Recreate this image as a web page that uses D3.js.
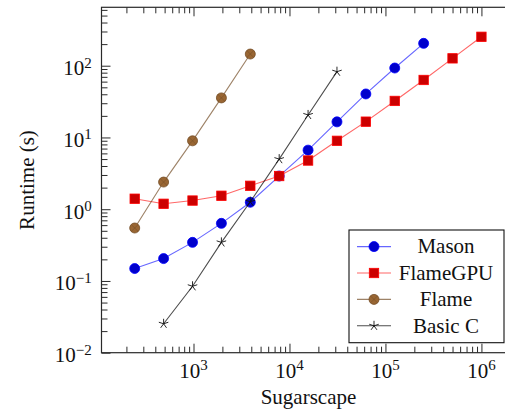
<!DOCTYPE html>
<html>
<head>
<meta charset="utf-8">
<script src="https://cdn.jsdelivr.net/npm/d3@7/dist/d3.min.js"></script>
<style>
  html, body { margin: 0; padding: 0; background: #fff; }
  svg { display: block; }
</style>
</head>
<body>
<svg id="chart" width="505" height="414"></svg>
<script>
// Problem sizes (number of agents) and runtimes in seconds
const sizesAll = [244, 488, 977, 1953, 3906, 7813, 15625, 31250, 62500, 125000, 250000, 500000, 1000000];

const masonX = [244, 488, 977, 1953, 3906, 7813, 15625, 31250, 62500, 125000, 250000];
const masonY = [0.149, 0.205, 0.345, 0.635, 1.25, 2.9, 6.66, 16.5, 40.4, 92.9, 205];

const flameGpuX = sizesAll;
const flameGpuY = [1.40, 1.19, 1.32, 1.54, 2.12, 2.90, 4.77, 8.98, 16.6, 32.3, 63.3, 126.7, 253];

const flameX = [244, 488, 977, 1953, 3906];
const flameY = [0.547, 2.39, 8.98, 35.6, 145.5];

const basicCX = [488, 977, 1953, 3906, 7813, 15625, 31250];
const basicCY = [0.0253, 0.0843, 0.345, 1.27, 4.99, 20.6, 82.6];

const seriesNames = ["Mason", "FlameGPU", "Flame", "Basic C"];

const xMajorTicks = [1e3, 1e4, 1e5, 1e6];
const xTickExponents = ["3", "4", "5", "6"];
const yMajorTicks = [1e-2, 1e-1, 1e0, 1e1, 1e2];
const yTickExponents = ["\u22122", "\u22121", "0", "1", "2"];

const xTitle = "Sugarscape";
const yTitle = "Runtime (s)";

// axis limits
const xLimits = [110, 2.32e6];
const yLimits = [0.01, 652];

const plot = { left: 101.5, right: 516.5, top: 7.3, bottom: 352.7 };
const FONT = '"Liberation Serif"';

const svg = d3.select("#chart");

const x = d3.scaleLog().domain(xLimits).range([plot.left, plot.right]);
const y = d3.scaleLog().domain(yLimits).range([plot.bottom, plot.top]);

const isMajor = v => Math.abs(Math.log10(v) - Math.round(Math.log10(v))) < 1e-9;
const xMinor = x.ticks().filter(v => !isMajor(v));
const yMinor = y.ticks().filter(v => !isMajor(v));

const MAJOR = 9, MINOR = 6;
const tickColor = "#2a2a2a";

function styleAxis(g) {
  g.select(".domain").remove();
  g.selectAll(".tick line").attr("stroke", tickColor).attr("stroke-width", 1);
  g.selectAll(".tick text").remove();
}

// bottom and top ticks (pointing inwards)
[[d3.axisBottom, plot.bottom], [d3.axisTop, plot.top]].forEach(([axisFn, pos]) => {
  svg.append("g").attr("transform", `translate(0,${pos})`)
    .call(axisFn(x).tickValues(xMinor).tickSize(-MINOR).tickFormat(""))
    .call(styleAxis);
  svg.append("g").attr("transform", `translate(0,${pos})`)
    .call(axisFn(x).tickValues(xMajorTicks).tickSize(-MAJOR).tickFormat(""))
    .call(styleAxis);
});

// left and right ticks
[[d3.axisLeft, plot.left], [d3.axisRight, plot.right]].forEach(([axisFn, pos]) => {
  svg.append("g").attr("transform", `translate(${pos},0)`)
    .call(axisFn(y).tickValues(yMinor).tickSize(-MINOR).tickFormat(""))
    .call(styleAxis);
  svg.append("g").attr("transform", `translate(${pos},0)`)
    .call(axisFn(y).tickValues(yMajorTicks).tickSize(-MAJOR).tickFormat(""))
    .call(styleAxis);
});

// frame
svg.append("rect")
  .attr("x", plot.left).attr("y", plot.top)
  .attr("width", plot.right - plot.left).attr("height", plot.bottom - plot.top)
  .attr("fill", "none").attr("stroke", tickColor).attr("stroke-width", 1.2);

function addText(parent) {
  return parent.append("text").style("font-family", FONT).attr("fill", "#111");
}

// tick labels as 10^n
const labelSize = 21, expSize = 15;
xMajorTicks.forEach((v, i) => {
  const t = addText(svg)
    .attr("x", x(v)).attr("y", 378.3)
    .attr("text-anchor", "middle").style("font-size", labelSize + "px");
  t.append("tspan").text("10");
  t.append("tspan").attr("dy", -8).style("font-size", expSize + "px").text(xTickExponents[i]);
});
yMajorTicks.forEach((v, i) => {
  const t = addText(svg)
    .attr("x", 91.7).attr("y", y(v) + 9.5)
    .attr("text-anchor", "end").style("font-size", labelSize + "px");
  t.append("tspan").text("10");
  t.append("tspan").attr("dy", -7.5).style("font-size", expSize + "px").text(yTickExponents[i]);
});

// axis titles
addText(svg)
  .attr("x", (plot.left + plot.right) / 2 - 0.5).attr("y", 403.5)
  .attr("text-anchor", "middle").style("font-size", labelSize + "px").text(xTitle);
addText(svg)
  .attr("transform", `translate(33.5,${(plot.top + plot.bottom) / 2}) rotate(-90)`)
  .attr("text-anchor", "middle").style("font-size", labelSize + "px").text(yTitle);

// marker drawers
const markers = {
  circle(g, cx, cy) {
    g.append("circle").attr("cx", cx).attr("cy", cy).attr("r", 5)
      .attr("fill", "#0000cc").attr("stroke", "#0000ff").attr("stroke-width", 0.8);
  },
  square(g, cx, cy) {
    g.append("rect").attr("x", cx - 4.7).attr("y", cy - 4.7).attr("width", 9.4).attr("height", 9.4)
      .attr("fill", "#cc0000").attr("stroke", "#ff0000").attr("stroke-width", 0.8);
  },
  otimes(g, cx, cy) {
    g.append("circle").attr("cx", cx).attr("cy", cy).attr("r", 5)
      .attr("fill", "#996633").attr("stroke", "#734d26").attr("stroke-width", 0.8);
    const d = 5 / Math.SQRT2;
    [[-d, -d, d, d], [-d, d, d, -d]].forEach(([a, b, c, e]) => {
      g.append("line").attr("x1", cx + a).attr("y1", cy + b).attr("x2", cx + c).attr("y2", cy + e)
        .attr("stroke", "#734d26").attr("stroke-width", 0.7).attr("opacity", 0.7);
    });
  },
  star(g, cx, cy) {
    for (let k = 0; k < 5; k++) {
      const ang = (-90 + k * 72) * Math.PI / 180;
      g.append("line").attr("x1", cx).attr("y1", cy)
        .attr("x2", cx + 5 * Math.cos(ang)).attr("y2", cy + 5 * Math.sin(ang))
        .attr("stroke", "#111").attr("stroke-width", 0.9);
    }
  }
};

const series = [
  { name: seriesNames[0], xs: masonX, ys: masonY, line: "#0000ff", lineOpacity: 0.6, mark: "circle" },
  { name: seriesNames[1], xs: flameGpuX, ys: flameGpuY, line: "#ff0000", lineOpacity: 0.6, mark: "square" },
  { name: seriesNames[2], xs: flameX, ys: flameY, line: "#734d26", lineOpacity: 0.7, mark: "otimes" },
  { name: seriesNames[3], xs: basicCX, ys: basicCY, line: "#000000", lineOpacity: 0.7, mark: "star" }
];

const lineGen = d3.line().x(d => x(d[0])).y(d => y(d[1]));

series.forEach(s => {
  const pts = s.xs.map((v, i) => [v, s.ys[i]]);
  const g = svg.append("g");
  g.append("path").attr("d", lineGen(pts)).attr("fill", "none")
    .attr("stroke", s.line).attr("stroke-opacity", s.lineOpacity).attr("stroke-width", 1.1);
  pts.forEach(p => markers[s.mark](g, x(p[0]), y(p[1])));
});

// legend
const legend = svg.append("g");
legend.append("rect").attr("x", 349).attr("y", 230).attr("width", 155).attr("height", 112.7)
  .attr("fill", "#fff").attr("stroke", "#111").attr("stroke-width", 1.1);
series.forEach((s, i) => {
  const cy = 246.6 + i * 26.4;
  legend.append("line").attr("x1", 357).attr("x2", 391).attr("y1", cy).attr("y2", cy)
    .attr("stroke", s.line).attr("stroke-opacity", s.lineOpacity).attr("stroke-width", 1.1);
  markers[s.mark](legend, 374, cy);
  addText(legend).attr("x", 446).attr("y", cy + 6.8)
    .attr("text-anchor", "middle").style("font-size", labelSize + "px").text(s.name);
});
</script>
</body>
</html>
